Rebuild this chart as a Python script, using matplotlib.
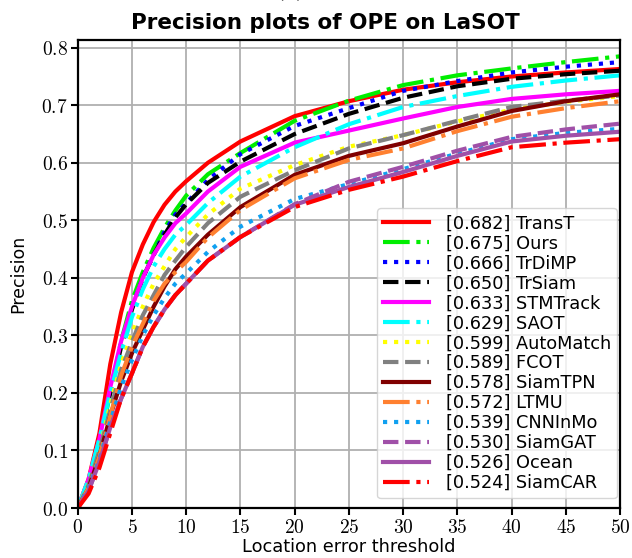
import matplotlib
matplotlib.use("Agg")
import matplotlib.pyplot as plt
from matplotlib.ticker import FuncFormatter

plt.rcParams['mathtext.fontset'] = 'cm'
plt.rcParams['font.family'] = ['DejaVu Sans']

thresholds = [0, 1, 2, 3, 4, 5, 6, 7, 8, 9, 10, 12, 15, 20, 25, 30, 35, 40, 45, 50]

trackers = ['TransT', 'Ours', 'TrDiMP', 'TrSiam', 'STMTrack', 'SAOT', 'AutoMatch',
            'FCOT', 'SiamTPN', 'LTMU', 'CNNInMo', 'SiamGAT', 'Ocean', 'SiamCAR']
scores = [0.682, 0.675, 0.666, 0.650, 0.633, 0.629, 0.599,
          0.589, 0.578, 0.572, 0.539, 0.530, 0.526, 0.524]

transt    = [0, .050, .130, .250, .340, .410, .458, .497, .527, .550, .568, .600, .637, .681, .707, .727, .740, .750, .757, .763]
ours      = [0, .040, .110, .200, .290, .360, .410, .452, .487, .517, .543, .580, .617, .673, .708, .735, .752, .764, .775, .785]
trdimp    = [0, .040, .110, .200, .280, .350, .400, .440, .480, .510, .530, .570, .615, .664, .695, .725, .742, .757, .767, .775]
trsiam    = [0, .040, .110, .200, .280, .345, .400, .440, .475, .505, .528, .565, .602, .650, .685, .713, .733, .746, .754, .760]
stmtrack  = [0, .050, .120, .210, .290, .350, .400, .440, .470, .495, .512, .550, .593, .635, .656, .677, .697, .711, .719, .725]
saot      = [0, .050, .120, .200, .270, .332, .380, .420, .450, .475, .492, .530, .576, .627, .667, .697, .716, .732, .743, .752]
automatch = [0, .040, .100, .180, .250, .303, .350, .390, .420, .450, .471, .510, .555, .596, .628, .648, .672, .692, .706, .716]
fcot      = [0, .040, .100, .170, .240, .289, .335, .370, .405, .430, .454, .495, .541, .587, .625, .648, .673, .697, .708, .717]
siamtpn   = [0, .035, .090, .160, .220, .269, .310, .350, .385, .415, .437, .475, .523, .579, .612, .634, .663, .690, .707, .719]
ltmu      = [0, .035, .090, .160, .230, .280, .320, .360, .390, .410, .428, .470, .518, .573, .605, .625, .655, .680, .695, .707]
cnninmo   = [0, .035, .085, .150, .210, .257, .300, .335, .365, .390, .408, .445, .489, .537, .563, .589, .616, .641, .652, .659]
siamgat   = [0, .030, .080, .140, .190, .234, .280, .315, .345, .370, .390, .430, .471, .528, .567, .593, .621, .645, .658, .668]
ocean     = [0, .030, .080, .140, .190, .234, .280, .315, .345, .370, .390, .430, .471, .527, .558, .584, .612, .637, .647, .654]
siamcar   = [0, .025, .070, .130, .190, .234, .280, .315, .345, .370, .390, .430, .471, .523, .553, .576, .603, .627, .635, .641]

series = [transt, ours, trdimp, trsiam, stmtrack, saot, automatch,
          fcot, siamtpn, ltmu, cnninmo, siamgat, ocean, siamcar]

colors = ['#ff0000', '#00ee00', '#0000ff', '#000000', '#ff00ff', '#00ffff', '#ffff00',
          '#808080', '#800000', '#ff8030', '#10a0f0', '#a050a8', '#a050a8', '#ff0000']
styles = ['-', '-.', ':', '--', '-', '-.', ':',
          '--', '-', '-.', ':', '--', '-', '-.']

fig = plt.figure(figsize=(6.32, 5.58), dpi=100)
ax = fig.add_axes([0.123, 0.0896, 0.858, 0.8387])

for name, sc, ys, c, ls in zip(trackers, scores, series, colors, styles):
    ax.plot(thresholds, ys, color=c, linestyle=ls, linewidth=3,
            label=f'[{sc:.3f}] {name}')

ax.set_xlim(0, 50)
ax.set_ylim(0, 0.8134)
ax.set_xticks(range(0, 51, 5))
ax.set_yticks([i / 10 for i in range(9)])
ax.xaxis.set_major_formatter(FuncFormatter(lambda v, p: f'${int(v)}$'))
ax.yaxis.set_major_formatter(FuncFormatter(lambda v, p: f'${v:.1f}$'))
ax.tick_params(direction='out', length=5, width=1.5, labelsize=14, pad=2)
ax.grid(True, color='#b0b0b0', linewidth=1.3)
ax.set_axisbelow(True)
for sp in ax.spines.values():
    sp.set_linewidth(1.6)

ax.set_title('Precision plots of OPE on LaSOT', fontsize=15.5, fontweight='bold',
             pad=8, x=0.456)
ax.set_xlabel('Location error threshold', fontsize=12.8, labelpad=1)
ax.set_ylabel('Precision', fontsize=12.5, labelpad=10)

ax.legend(loc='lower right', bbox_to_anchor=(0.9945, 0.021), borderaxespad=0,
          fontsize=12.8, handlelength=2.55, handletextpad=0.95, labelspacing=0.11,
          borderpad=0.35, framealpha=0.8)

fig.text(0.46, 1.003, '(b)', ha='center', va='baseline', fontsize=14,
         family='DejaVu Serif')

fig.savefig('out.png', dpi=100)
